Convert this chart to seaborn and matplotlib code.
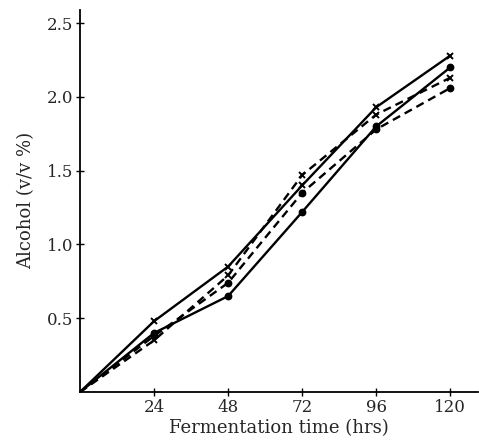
import matplotlib
matplotlib.use("Agg")
import matplotlib.pyplot as plt
import seaborn as sns
import pandas as pd

hours = [0, 24, 48, 72, 96, 120]
solid_x = [0, 0.48, 0.85, 1.40, 1.93, 2.28]
solid_dot = [0, 0.40, 0.65, 1.22, 1.80, 2.20]
dashed_x = [0, 0.35, 0.79, 1.47, 1.88, 2.13]
dashed_dot = [0, 0.38, 0.74, 1.35, 1.78, 2.06]

sns.set_theme(style="white")
plt.rcParams['font.family'] = ['DejaVu Serif']

fig = plt.figure(figsize=(4.79, 4.46), dpi=100)
ax = fig.add_axes([0.167, 0.121, 0.831, 0.857])

specs = [
    (solid_x, "x", "-"),
    (solid_dot, "o", "-"),
    (dashed_x, "x", (0, (3.5, 2.2))),
    (dashed_dot, "o", (0, (3.5, 2.2))),
]
for vals, mk, ls in specs:
    df = pd.DataFrame({"hours": hours, "alcohol": vals})
    sns.lineplot(data=df, x="hours", y="alcohol", color="black",
                 linewidth=1.7, linestyle=ls, marker=mk, markersize=4.2,
                 markeredgewidth=1.4, markeredgecolor="black",
                 markevery=[1, 2, 3, 4, 5], ax=ax)

ax.set_xlim(0, 129)
ax.set_ylim(0, 2.59)
ax.set_xticks([24, 48, 72, 96, 120])
ax.set_yticks([0.5, 1.0, 1.5, 2.0, 2.5])
ax.set_yticklabels(["0.5", "1.0", "1.5", "2.0", "2.5"])
ax.tick_params(direction="inout", length=6, width=1, labelsize=12, color="black",
               left=True, bottom=True, pad=2)
for s in ["top", "right"]:
    ax.spines[s].set_visible(False)
for s in ["left", "bottom"]:
    ax.spines[s].set_color("black")
    ax.spines[s].set_linewidth(1.3)
ax.set_xlabel("Fermentation time (hrs)", fontsize=13, labelpad=2)
ax.set_ylabel("Alcohol (v/v %)", fontsize=13, labelpad=8)

fig.savefig("out.png", dpi=100)
